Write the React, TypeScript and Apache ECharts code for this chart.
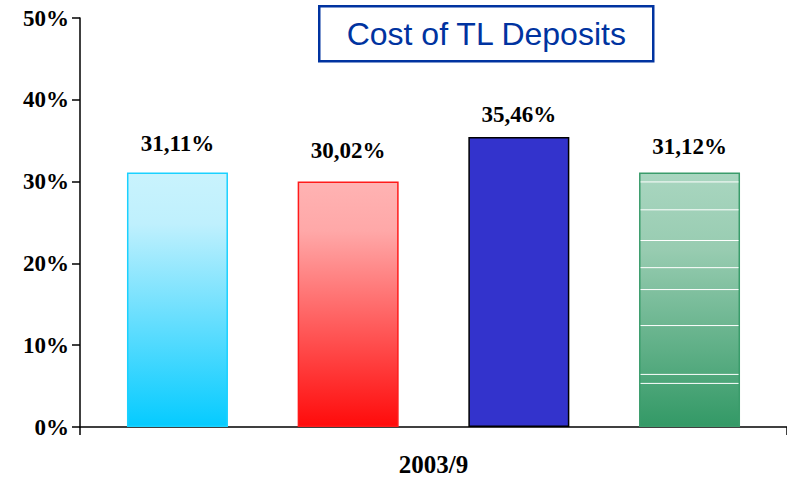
import React, { useEffect, useRef } from "react";
import * as echarts from "echarts";

const categories = ["2003/9"];
const seriesNames = ["Bank A", "Bank B", "Bank C", "Bank D"];
const values = [31.11, 30.02, 35.46, 31.12];
const yTicks = { min: 0, max: 50, interval: 10 };
const stripeValues = [29.96, 26.55, 22.8, 19.48, 16.8, 12.4, 6.43, 5.33];

const SERIF = "'Liberation Serif', 'Times New Roman', Times, serif";
const BAR_WIDTH = 101;
const BAR_GAP = 0.69;
const labelDistances = [18, 19, 11, 14];

const fills = [
  new echarts.graphic.LinearGradient(0, 0, 0, 1, [
    { offset: 0, color: "#c9f3fd" },
    { offset: 0.2, color: "#bff0fd" },
    { offset: 1, color: "#05cbff" },
  ]),
  new echarts.graphic.LinearGradient(0, 0, 0, 1, [
    { offset: 0, color: "#ffb3b3" },
    { offset: 0.2, color: "#ffa8a8" },
    { offset: 1, color: "#ff0b0b" },
  ]),
  "#3333cc",
  new echarts.graphic.LinearGradient(0, 0, 0, 1, [
    { offset: 0, color: "#a9d6c0" },
    { offset: 0.3, color: "#98ccb1" },
    { offset: 1, color: "#339966" },
  ]),
];
const borders = ["#1ad1ff", "#ff1a1a", "#000000", "#3a9c6b"];

function fmt(v: number) {
  return v.toFixed(2).replace(".", ",") + "%";
}

export default function App() {
  const ref = useRef<HTMLDivElement>(null);
  useEffect(() => {
    if (!ref.current) return;
    const chart = echarts.init(ref.current, undefined, { renderer: "svg" });
    const n = values.length;
    const gapPx = BAR_WIDTH * BAR_GAP;
    const total = n * BAR_WIDTH + (n - 1) * gapPx;
    const lastCenterOffset = total / 2 - BAR_WIDTH / 2;

    const barSeries = values.map((v, i) => ({
      name: seriesNames[i],
      type: "bar",
      barWidth: BAR_WIDTH,
      barGap: BAR_GAP * 100 + "%",
      data: [v],
      itemStyle: { color: fills[i], borderColor: borders[i], borderWidth: 1.5 },
      label: {
        show: true,
        position: "top",
        distance: labelDistances[i],
        formatter: (p: any) => fmt(p.value),
        fontFamily: SERIF,
        fontWeight: "bold",
        fontSize: 23,
        color: "#000",
      },
    }));

    chart.setOption({
      animation: false,
      backgroundColor: "#fff",
      grid: { left: 80, top: 18, width: 711, height: 409, containLabel: false },
      xAxis: {
        type: "category",
        data: categories,
        axisLine: { lineStyle: { color: "#000", width: 1.5 } },
        axisTick: { show: true, length: 8, lineStyle: { color: "#000", width: 1.5 } },
        axisLabel: {
          margin: 25,
          fontFamily: SERIF,
          fontWeight: "bold",
          fontSize: 25,
          color: "#000",
        },
      },
      yAxis: {
        type: "value",
        min: yTicks.min,
        max: yTicks.max,
        interval: yTicks.interval,
        splitLine: { show: false },
        axisLine: { show: true, lineStyle: { color: "#000", width: 1.5 } },
        axisTick: { show: true, length: 8, lineStyle: { color: "#000", width: 1.5 } },
        axisLabel: {
          margin: 11,
          formatter: "{value}%",
          fontFamily: SERIF,
          fontWeight: "bold",
          fontSize: 23,
          color: "#000",
        },
      },
      graphic: [
        {
          type: "group",
          left: 318,
          top: 5,
          children: [
            {
              type: "rect",
              shape: { x: 0, y: 0, width: 334, height: 55 },
              style: { fill: "#fff", stroke: "#0033a0", lineWidth: 2.5 },
            },
            {
              type: "text",
              x: 167,
              y: 28,
              style: {
                text: "Cost of TL Deposits",
                fill: "#0033a0",
                font: "32px 'Liberation Sans', Arial, sans-serif",
                align: "center",
                verticalAlign: "middle",
              },
            },
          ],
        },
      ],
      series: [
        ...barSeries,
        {
          type: "custom",
          z: 5,
          silent: true,
          data: stripeValues.map((v) => [0, v]),
          renderItem: (params: any, api: any) => {
            const p = api.coord([api.value(0), api.value(1)]);
            const cx = p[0] + lastCenterOffset;
            return {
              type: "line",
              shape: { x1: cx - BAR_WIDTH / 2 + 1.5, y1: p[1], x2: cx + BAR_WIDTH / 2 - 1.5, y2: p[1] },
              style: { stroke: "#ffffff", lineWidth: 1 },
            };
          },
        },
      ],
    });
    return () => chart.dispose();
  }, []);
  return (
    <div
      ref={ref}
      style={{ position: "fixed", left: 0, top: 0, width: 787, height: 478, background: "#fff" }}
    />
  );
}
